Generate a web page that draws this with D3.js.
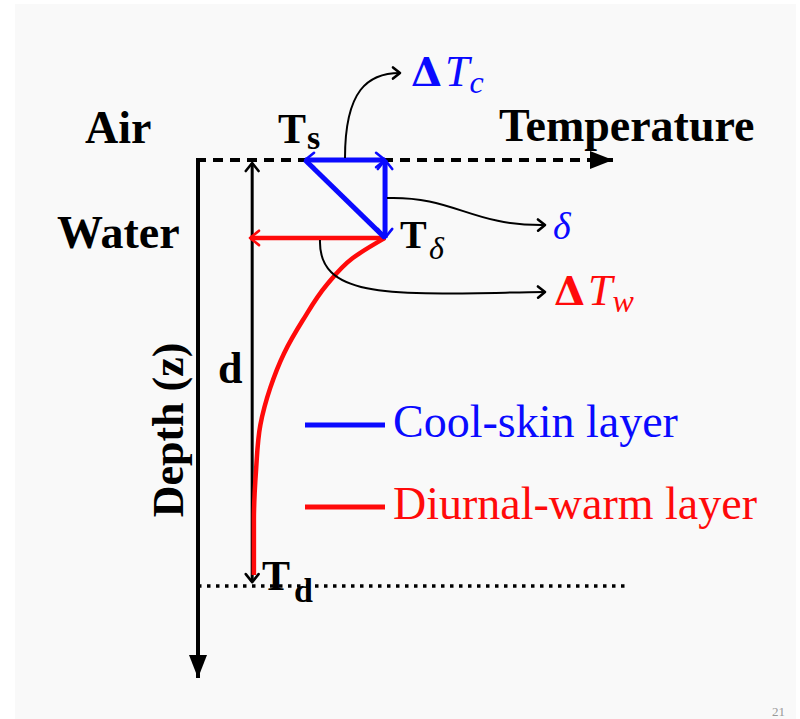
<!DOCTYPE html>
<html>
<head>
<meta charset="utf-8">
<script src="https://cdn.jsdelivr.net/npm/d3@7"></script>
<style>
body{margin:0;background:#fff}
text{font-family:"Liberation Serif","Times New Roman",serif}
</style>
</head>
<body>
<div class="chart"></div>
<script>
// temperature / depth in arbitrary units
const tempSurface=2.49      // T_s
const tempSkin=4.35         // T_delta
const tempDeep=1.26         // T_d (d arrow)
const depthSurface=0
const depthSkin=1.47        // delta
const depthMix=8.04         // d
const depthMax=10
const tempMax=10

// diurnal warm layer profile below the skin
const warmTemp=[4.35,3.60,3.00,2.44,2.00,1.68,1.45,1.35,1.30,1.30]
const warmDepth=[1.47,1.85,2.35,3.02,3.65,4.30,5.00,5.85,6.79,7.83]

const legendLabels=['Cool-skin layer','Diurnal-warm layer']
const legendColors=['#0a0aff','#ff0a0a']

const width=800,height=719

const svg=d3.select('.chart').append('svg')
	.attr('width',width)
	.attr('height',height)

svg.append('rect')
	.attr('x',15).attr('y',4)
	.attr('width',781).attr('height',720)
	.attr('fill','#f9f9f9')

const x=d3.scaleLinear().domain([0,tempMax]).range([198,628])
const y=d3.scaleLinear().domain([0,depthMax]).range([160,690])

const defs=svg.append('defs')
function chevron(id,color,s){
	defs.append('marker')
		.attr('id',id)
		.attr('markerUnits','userSpaceOnUse')
		.attr('viewBox','-12 -10 14 20')
		.attr('markerWidth',14).attr('markerHeight',20)
		.attr('refX',0).attr('refY',0)
		.attr('orient','auto-start-reverse')
		.append('path')
		.attr('d',`M${-s},${-s*0.8}L0,0L${-s},${s*0.8}`)
		.attr('fill','none')
		.attr('stroke',color)
		.attr('stroke-width',2.6)
		.attr('stroke-linecap','round')
		.attr('stroke-linejoin','round')
}
chevron('chev-k','#000',8)
chevron('chev-b','#0a0aff',9)
chevron('chev-r','#ff0a0a',9)
chevron('chev-t','#000',7)
defs.append('marker')
	.attr('id','tri')
	.attr('markerUnits','userSpaceOnUse')
	.attr('viewBox','-24 -10 26 20')
	.attr('markerWidth',26).attr('markerHeight',20)
	.attr('refX',0).attr('refY',0)
	.attr('orient','auto')
	.append('path')
	.attr('d','M-23,-9L0,0L-23,9Z')
	.attr('fill','#000')

// axes
svg.append('line')
	.attr('x1',x(0)).attr('y1',y(depthSurface))
	.attr('x2',x(0)).attr('y2',y(depthMax)-12)
	.attr('stroke','#000').attr('stroke-width',4)
	.attr('marker-end','url(#tri)')
svg.append('line')
	.attr('x1',x(0)-2).attr('y1',y(depthSurface))
	.attr('x2',x(9.93)-12).attr('y2',y(depthSurface))
	.attr('stroke','#000').attr('stroke-width',4)
	.attr('stroke-dasharray','10,7')
	.attr('marker-end','url(#tri)')
svg.append('line')
	.attr('x1',x(0)).attr('y1',y(depthMix))
	.attr('x2',x(tempMax)).attr('y2',y(depthMix))
	.attr('stroke','#000').attr('stroke-width',3.5)
	.attr('stroke-dasharray','3.5,5.5')

// d arrow
svg.append('line')
	.attr('x1',x(tempDeep)).attr('y1',y(depthSurface)+3)
	.attr('x2',x(tempDeep)).attr('y2',y(depthMix)-4)
	.attr('stroke','#000').attr('stroke-width',3)
	.attr('marker-start','url(#chev-k)')
	.attr('marker-end','url(#chev-k)')

// warm layer
const line=d3.line().x(d=>x(d[0])).y(d=>y(d[1])).curve(d3.curveMonotoneY)
svg.append('path')
	.datum(d3.zip(warmTemp,warmDepth))
	.attr('d',line)
	.attr('fill','none')
	.attr('stroke',legendColors[1]).attr('stroke-width',4.5)
svg.append('line')
	.attr('x1',x(tempSkin)).attr('y1',y(depthSkin))
	.attr('x2',x(1.21)).attr('y2',y(depthSkin))
	.attr('stroke',legendColors[1]).attr('stroke-width',4.5)
	.attr('marker-end','url(#chev-r)')

// cool skin
svg.append('line')
	.attr('x1',x(tempSurface)).attr('y1',y(depthSurface))
	.attr('x2',x(tempSkin)).attr('y2',y(depthSkin))
	.attr('stroke',legendColors[0]).attr('stroke-width',5)
svg.append('line')
	.attr('x1',x(tempSurface)).attr('y1',y(depthSurface))
	.attr('x2',x(tempSkin)).attr('y2',y(depthSurface))
	.attr('stroke',legendColors[0]).attr('stroke-width',5)
	.attr('marker-start','url(#chev-b)')
	.attr('marker-end','url(#chev-b)')
svg.append('line')
	.attr('x1',x(tempSkin)).attr('y1',y(depthSkin))
	.attr('x2',x(tempSkin)).attr('y2',y(depthSurface))
	.attr('stroke',legendColors[0]).attr('stroke-width',5)
	.attr('marker-start','url(#chev-b)')
	.attr('marker-end','url(#chev-b)')

// callout arrows
const callouts=[
	'M345,158 C345,90 368,73 400,73',
	'M387,198 C455,196 470,226 545,225',
	'M320,240 C318,302 400,294 545,292'
]
svg.selectAll('.callout')
	.data(callouts)
	.enter().append('path')
	.attr('class','callout')
	.attr('d',d=>d)
	.attr('fill','none')
	.attr('stroke','#000').attr('stroke-width',2)
	.attr('marker-end','url(#chev-t)')

// labels
function label(tx,ty,str,size,opts){
	const t=svg.append('text')
		.attr('x',tx).attr('y',ty)
		.attr('font-size',size)
		.attr('font-weight',opts.bold?'bold':'normal')
		.attr('font-style',opts.italic?'italic':'normal')
		.attr('fill',opts.color||'#000')
		.text(str)
	return t
}
label(85,143,'Air',46,{bold:true})
label(499,141,'Temperature',46,{bold:true})
label(57,248,'Water',46,{bold:true})
label(218,383,'d',44,{bold:true})

svg.append('text')
	.attr('transform','translate(183,430) rotate(-90)')
	.attr('text-anchor','middle')
	.attr('font-size',44)
	.attr('font-weight','bold')
	.text('Depth (z)')

label(278,143,'T',42,{bold:true})
label(307,149,'s',34,{bold:true})
label(400,248,'T',40,{bold:true})
label(429,259,'δ',32,{italic:true})
label(262,590,'T',42,{bold:true})
label(294,602,'d',34,{bold:true})

// math labels: bold delta, italic T, italic subscript
function mathLabel(tx,ty,sub,color){
	const t=svg.append('text')
		.attr('x',tx).attr('y',ty)
		.attr('fill',color)
	t.append('tspan')
		.attr('font-family','"DejaVu Serif",serif')
		.attr('font-weight','bold')
		.attr('font-size',40)
		.text('Δ')
	t.append('tspan')
		.attr('dx',3)
		.attr('font-style','italic')
		.attr('font-size',44)
		.text('T')
	t.append('tspan')
		.attr('dx',0).attr('dy',7)
		.attr('font-style','italic')
		.attr('font-size',32)
		.text(sub)
}
mathLabel(411,86,'c',legendColors[0])
mathLabel(554,305,'w',legendColors[1])
label(553,239,'δ',38,{italic:true,color:legendColors[0]})

// legend
const legend=svg.selectAll('.legend')
	.data(legendLabels)
	.enter().append('g')
	.attr('class','legend')
	.attr('transform',(d,i)=>`translate(305,${425+i*82})`)
legend.append('line')
	.attr('x1',0).attr('x2',80)
	.attr('stroke',(d,i)=>legendColors[i])
	.attr('stroke-width',5)
legend.append('text')
	.attr('x',88).attr('y',12)
	.attr('font-size',46)
	.attr('fill',(d,i)=>legendColors[i])
	.text(d=>d)

svg.append('text')
	.attr('x',772).attr('y',716)
	.attr('font-size',13)
	.attr('fill','#999')
	.text('21')
</script>
</body>
</html>
